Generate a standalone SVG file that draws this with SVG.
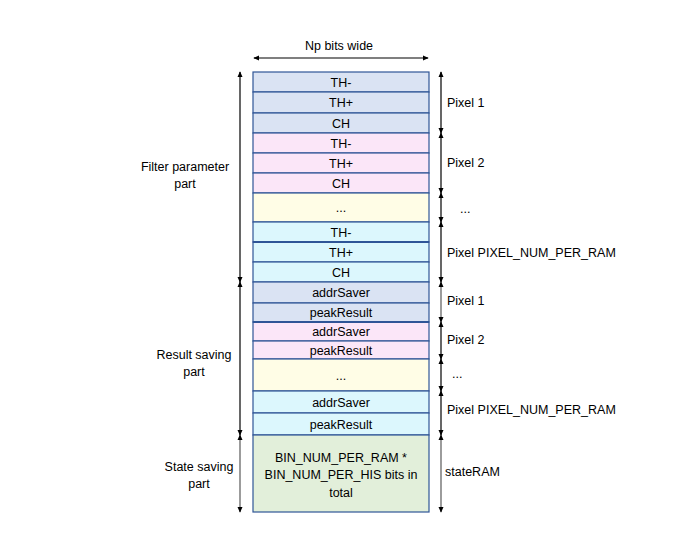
<svg xmlns="http://www.w3.org/2000/svg" width="688" height="558" viewBox="0 0 688 558">
<style>
text{font-family:"Liberation Sans",Arial,sans-serif;font-size:12.5px;fill:#000}
.c{text-anchor:middle}
.r{stroke:#2f5597;stroke-width:1.2}
.b{fill:#dae3f3}.p{fill:#fbe6f8}.y{fill:#fffde6}.cy{fill:#dcf7fd}.g{fill:#e2efda}
.a{stroke:#000;stroke-width:1.2;fill:none}
.ag{stroke:#595959;stroke-width:1.2;fill:none}
</style>
<defs>
<marker id="h" viewBox="0 0 8 8" refX="7" refY="4" markerWidth="6" markerHeight="6" orient="auto-start-reverse" markerUnits="userSpaceOnUse"><path d="M0,0.5 L8,4 L0,7.5 z" fill="#000"/></marker>
</defs>
<rect width="688" height="558" fill="#fff"/>
<g id="memory">
<rect class="r b" x="253" y="72" width="176" height="20"/>
<rect class="r b" x="253" y="92" width="176" height="21"/>
<rect class="r b" x="253" y="113" width="176" height="20"/>
<rect class="r p" x="253" y="133" width="176" height="20"/>
<rect class="r p" x="253" y="153" width="176" height="20"/>
<rect class="r p" x="253" y="173" width="176" height="20"/>
<rect class="r y" x="253" y="193" width="176" height="29"/>
<rect class="r cy" x="253" y="222" width="176" height="20"/>
<rect class="r cy" x="253" y="242" width="176" height="20"/>
<rect class="r cy" x="253" y="262" width="176" height="20"/>
<rect class="r b" x="253" y="282" width="176" height="21"/>
<rect class="r b" x="253" y="303" width="176" height="19"/>
<rect class="r p" x="253" y="322" width="176" height="19"/>
<rect class="r p" x="253" y="341" width="176" height="18"/>
<rect class="r y" x="253" y="359" width="176" height="32"/>
<rect class="r cy" x="253" y="391" width="176" height="22"/>
<rect class="r cy" x="253" y="413" width="176" height="22"/>
<rect class="r g" x="253" y="435" width="176" height="77"/>
<line x1="253" y1="242" x2="429" y2="242" stroke="#2f5597" stroke-width="2.2"/>
<line x1="253" y1="322" x2="429" y2="322" stroke="#2f5597" stroke-width="2.2"/>
<text class="c" x="341" y="86.5">TH-</text>
<text class="c" x="341" y="107">TH+</text>
<text class="c" x="341" y="127.5">CH</text>
<text class="c" x="341" y="147.5">TH-</text>
<text class="c" x="341" y="167.5">TH+</text>
<text class="c" x="341" y="187.5">CH</text>
<text class="c" x="341" y="212">...</text>
<text class="c" x="341" y="236.5">TH-</text>
<text class="c" x="341" y="256.5">TH+</text>
<text class="c" x="341" y="276.5">CH</text>
<text class="c" x="341" y="297">addrSaver</text>
<text class="c" x="341" y="317">peakResult</text>
<text class="c" x="341" y="336">addrSaver</text>
<text class="c" x="341" y="355">peakResult</text>
<text class="c" x="341" y="380">...</text>
<text class="c" x="341" y="407">addrSaver</text>
<text class="c" x="341" y="429">peakResult</text>
<text class="c" x="341" y="462">BIN_NUM_PER_RAM *</text>
<text class="c" x="341" y="479">BIN_NUM_PER_HIS bits in</text>
<text class="c" x="341" y="497">total</text>
</g>
<g id="labels">
<text class="c" x="339" y="50">Np bits wide</text>
<text class="c" x="185" y="171">Filter parameter</text>
<text class="c" x="185" y="188">part</text>
<text class="c" x="194" y="359">Result saving</text>
<text class="c" x="194" y="376">part</text>
<text class="c" x="199" y="471">State saving</text>
<text class="c" x="199" y="488">part</text>
<text x="447" y="107">Pixel 1</text>
<text x="447" y="167">Pixel 2</text>
<text x="460" y="213">...</text>
<text x="447" y="257">Pixel PIXEL_NUM_PER_RAM</text>
<text x="447" y="305">Pixel 1</text>
<text x="447" y="344">Pixel 2</text>
<text x="452" y="378">...</text>
<text x="447" y="414">Pixel PIXEL_NUM_PER_RAM</text>
<text x="445" y="476">stateRAM</text>
</g>
<g id="connectors">
<line class="a" x1="254" y1="58" x2="428" y2="58" marker-start="url(#h)" marker-end="url(#h)"/>
<line class="a" x1="240" y1="72" x2="240" y2="282" marker-start="url(#h)" marker-end="url(#h)"/>
<line class="a" x1="240" y1="282" x2="240" y2="435" marker-start="url(#h)" marker-end="url(#h)"/>
<line class="ag" x1="240" y1="435" x2="240" y2="512" marker-start="url(#h)" marker-end="url(#h)"/>
<line class="a" x1="441" y1="72" x2="441" y2="133" marker-start="url(#h)" marker-end="url(#h)"/>
<line class="a" x1="441" y1="133" x2="441" y2="193" marker-start="url(#h)" marker-end="url(#h)"/>
<line class="a" x1="441" y1="193" x2="441" y2="222" marker-start="url(#h)" marker-end="url(#h)"/>
<line class="a" x1="441" y1="222" x2="441" y2="282" marker-start="url(#h)" marker-end="url(#h)"/>
<line class="ag" x1="441" y1="282" x2="441" y2="322" marker-start="url(#h)" marker-end="url(#h)"/>
<line class="a" x1="441" y1="322" x2="441" y2="359" marker-start="url(#h)" marker-end="url(#h)"/>
<line class="a" x1="441" y1="359" x2="441" y2="391" marker-start="url(#h)" marker-end="url(#h)"/>
<line class="a" x1="441" y1="391" x2="441" y2="435" marker-start="url(#h)" marker-end="url(#h)"/>
<line class="ag" x1="441" y1="435" x2="441" y2="512" marker-start="url(#h)" marker-end="url(#h)"/>
</g>
</svg>
